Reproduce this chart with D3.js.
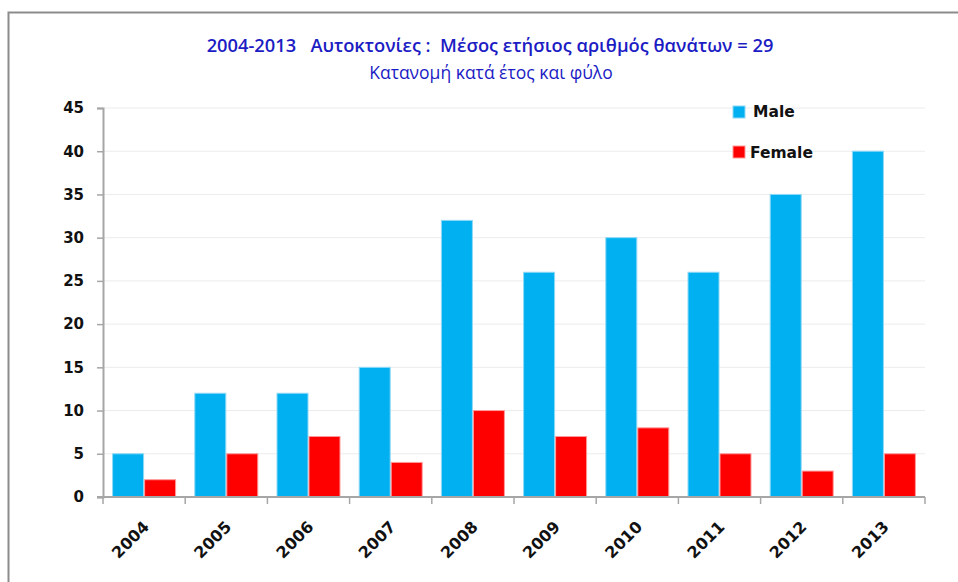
<!DOCTYPE html>
<html><head><meta charset="utf-8">
<script src="https://cdn.jsdelivr.net/npm/d3@7"></script>
<style>body{margin:0;background:#fff;overflow:hidden}svg{display:block}text.title{white-space:pre}</style>
</head><body>
<svg id="chart" width="958" height="582"></svg>
<script>
const years = ["2004","2005","2006","2007","2008","2009","2010","2011","2012","2013"];
const maleValues = [5, 12, 12, 15, 32, 26, 30, 26, 35, 40];
const femaleValues = [2, 5, 7, 4, 10, 7, 8, 5, 3, 5];
const seriesNames = ["Male", "Female"];
const yTicks = [0, 5, 10, 15, 20, 25, 30, 35, 40, 45];
const titleLine1 = "2004-2013   Αυτοκτονίες :  Μέσος ετήσιος αριθμός θανάτων = 29";
const titleLine2 = "Κατανομή κατά έτος και φύλο";

(function () {
const svg = d3.select("#chart");
const pl = 103, pr = 925, pt = 108, pb = 497;
const colors = {Male: "#00B0F0", Female: "#FF0000"};
const strokes = {Male: "#8ED9F6", Female: "#FF9A9A"};
const font = "'DejaVu Sans', sans-serif";

// frame
svg.append("path").attr("d", "M8.5,582V12.5H958")
  .attr("fill", "none").attr("stroke", "#8c8c8c").attr("stroke-width", 2);

// titles
svg.append("text").attr("class", "title").attr("x", 490).attr("y", 52).attr("text-anchor", "middle")
  .attr("font-family", "'Open Sans', sans-serif").attr("font-weight", 600)
  .attr("font-size", 18.3).attr("fill", "#1c1cc4").text(titleLine1);
svg.append("text").attr("class", "title").attr("x", 491).attr("y", 79).attr("text-anchor", "middle")
  .attr("font-family", "'Open Sans', sans-serif").attr("font-weight", 500)
  .attr("font-size", 17.5).attr("fill", "#1c1cc4").text(titleLine2);

const x = d3.scaleBand().domain(years).range([pl, pr]).padding(0);
const y = d3.scaleLinear().domain([0, 45]).range([pb, pt]);

// gridlines
svg.append("g").selectAll("line").data(yTicks.filter(d => d > 0)).join("line")
  .attr("x1", pl).attr("x2", pr).attr("y1", d => y(d)).attr("y2", d => y(d))
  .attr("stroke", "#ececec").attr("stroke-width", 1);

// bars
const barW = 32;
const data = years.map((yr, i) => ({year: yr, Male: maleValues[i], Female: femaleValues[i]}));
const groups = svg.append("g").selectAll("g").data(data).join("g")
  .attr("transform", d => `translate(${x(d.year) + (x.bandwidth() - 2 * barW) / 2},0)`);
groups.selectAll("rect").data(d => seriesNames.map((s, j) => ({s, j, v: d[s]}))).join("rect")
  .attr("x", d => d.j * barW + 0.5).attr("width", barW - 1)
  .attr("y", d => y(d.v)).attr("height", d => y(0) - y(d.v))
  .attr("fill", d => colors[d.s]).attr("stroke", d => strokes[d.s]).attr("stroke-width", 1);

// y axis
const yAxis = svg.append("g").attr("transform", `translate(${pl},0)`)
  .call(d3.axisLeft(y).tickValues(yTicks).tickSize(6).tickPadding(13));
yAxis.select(".domain").attr("stroke", "#a6a6a6").attr("stroke-width", 2);
yAxis.selectAll(".tick line").attr("stroke", "#a6a6a6").attr("stroke-width", 1.5);
yAxis.selectAll(".tick text").attr("font-family", font).attr("font-weight", "bold")
  .attr("font-size", 15).attr("fill", "#111");

// x axis
const xAxisG = svg.append("g").attr("transform", `translate(0,${pb})`);
xAxisG.append("line").attr("x1", pl - 6).attr("x2", pr).attr("y1", 0).attr("y2", 0)
  .attr("stroke", "#a6a6a6").attr("stroke-width", 2);
const bounds = years.map(d => x(d)).concat([x(years[years.length - 1]) + x.bandwidth()]);
xAxisG.selectAll("line.tk").data(bounds).join("line").attr("class", "tk")
  .attr("x1", d => d).attr("x2", d => d).attr("y1", 0).attr("y2", 7)
  .attr("stroke", "#a6a6a6").attr("stroke-width", 1.5);
xAxisG.selectAll("text").data(years).join("text")
  .attr("transform", d => `translate(${x(d) + x.bandwidth() / 2 + 6},31) rotate(-45)`)
  .attr("text-anchor", "end").attr("font-family", font).attr("font-weight", "bold")
  .attr("font-size", 16).attr("fill", "#111").text(d => d);

// legend
const legend = svg.append("g");
const legendItems = [{s: "Male", sy: 106, ty: 117, tx: 753}, {s: "Female", sy: 146, ty: 158, tx: 750}];
legendItems.forEach(it => {
  legend.append("rect").attr("x", 733).attr("y", it.sy).attr("width", 12).attr("height", 12)
    .attr("fill", colors[it.s]).attr("stroke", strokes[it.s]).attr("stroke-width", 1);
  legend.append("text").attr("x", it.tx).attr("y", it.ty).attr("font-family", font)
    .attr("font-weight", "bold").attr("font-size", 15.5).attr("fill", "#111").text(it.s);
});
})();
</script>
</body></html>
